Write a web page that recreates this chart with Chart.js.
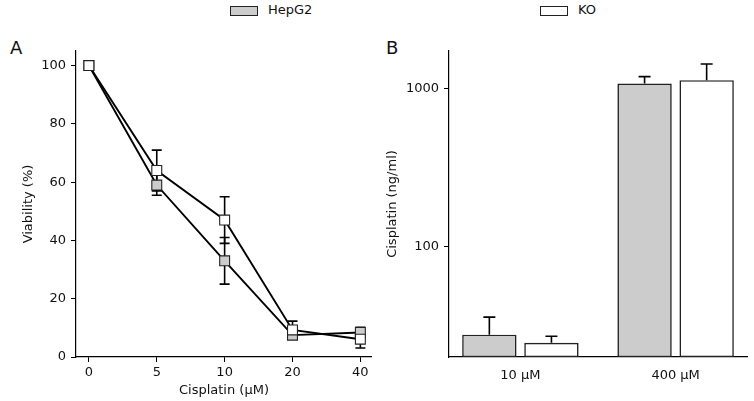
<!DOCTYPE html>
<html>
<head>
<meta charset="utf-8">
<script src="https://cdn.jsdelivr.net/npm/chart.js@4"></script>
<style>
  body { margin: 0; background: #fff; width: 754px; height: 401px; position: relative; overflow: hidden; font-family: 'DejaVu Sans', sans-serif; color: #111; }
  canvas { position: absolute; top: 0; }
  .lbl { position: absolute; font-size: 18px; line-height: 18px; }
  .key { position: absolute; top: 6px; width: 26px; height: 8px; border: 1px solid #222; }
  .keytxt { position: absolute; top: 3px; font-size: 13px; line-height: 13px; }
</style>
</head>
<body>
<div class="lbl" style="left:10px; top:39px;">A</div>
<div class="lbl" style="left:386px; top:39px;">B</div>
<div class="key" style="left:230px; background:#cccccc;"></div>
<div class="keytxt" style="left:268px;">HepG2</div>
<div class="key" style="left:540px; background:#ffffff;"></div>
<div class="keytxt" style="left:578px;">KO</div>
<canvas id="chartA" width="380" height="401" style="left:0"></canvas>
<canvas id="chartB" width="374" height="401" style="left:380px"></canvas>
<script>
// panel A: viability vs cisplatin dose
const doseLabels = ['0', '5', '10', '20', '40'];
const hepg2Viability = [100, 59, 33, 7.5, 8.4];
const hepg2ViabilityErr = [0, 3.5, 8, 1, 1.8];
const koViability = [100, 64, 47, 9.3, 6.1];
const koViabilityErr = [0, 7, 8, 3, 3];

// panel B: intracellular cisplatin
const concLabels = ['10 µM', '400 µM'];
const hepg2Cisplatin = [27.7, 1082];
const hepg2CisplatinErr = [8.1, 115];
const koCisplatin = [24.6, 1135];
const koCisplatinErr = [2.5, 304];

Chart.defaults.font.family = 'DejaVu Sans';
Chart.defaults.font.size = 13;
Chart.defaults.color = '#111';

const grey = '#cccccc';
const edge = '#222222';

function toPoints(vals) {
    return vals.map((v, i) => ({ x: i, y: v }));
}

function fixedTicks(values) {
    return (scale) => { scale.ticks = values.map(v => ({ value: v })); };
}

function drawErrors(chart, both, cap) {
    const ctx = chart.ctx;
    const ys = chart.scales.y;
    ctx.save();
    ctx.strokeStyle = '#000';
    ctx.lineWidth = 1.6;
    chart.data.datasets.forEach((ds, i) => {
        const meta = chart.getDatasetMeta(i);
        meta.data.forEach((el, j) => {
            const v = ds.data[j].y;
            const e = ds.errors[j];
            if (!e) return;
            const top = ys.getPixelForValue(v + e);
            const bot = both ? ys.getPixelForValue(v - e) : el.y;
            ctx.beginPath();
            ctx.moveTo(el.x, top);
            ctx.lineTo(el.x, bot);
            ctx.moveTo(el.x - cap, top);
            ctx.lineTo(el.x + cap, top);
            if (both) {
                ctx.moveTo(el.x - cap, bot);
                ctx.lineTo(el.x + cap, bot);
            }
            ctx.stroke();
        });
    });
    ctx.restore();
}

const axisGrid = { display: true, drawOnChartArea: false, drawTicks: true, tickLength: 5, color: '#000', lineWidth: 1 };
const axisBorder = { display: true, color: '#000', width: 1.2 };

new Chart(document.getElementById('chartA'), {
    type: 'line',
    data: {
        datasets: [
            {
                label: 'HepG2',
                data: toPoints(hepg2Viability),
                errors: hepg2ViabilityErr,
                borderColor: '#000',
                borderWidth: 1.9,
                pointStyle: 'rect',
                pointRadius: 7,
                pointBackgroundColor: grey,
                pointBorderColor: edge,
                pointBorderWidth: 1.1,
                order: 2
            },
            {
                label: 'KO',
                data: toPoints(koViability),
                errors: koViabilityErr,
                borderColor: '#000',
                borderWidth: 1.9,
                pointStyle: 'rect',
                pointRadius: 7,
                pointBackgroundColor: '#fff',
                pointBorderColor: edge,
                pointBorderWidth: 1.1,
                order: 1
            }
        ]
    },
    options: {
        responsive: false,
        animation: false,
        layout: { padding: { top: 51, right: 8, left: 0, bottom: 0 } },
        plugins: { legend: { display: false }, tooltip: { enabled: false } },
        scales: {
            x: {
                type: 'linear',
                min: -0.19,
                max: 4.17,
                bounds: 'data',
                afterBuildTicks: fixedTicks([0, 1, 2, 3, 4]),
                afterFit: (s) => { s.height = 44; },
                ticks: { padding: 3, maxRotation: 0, autoSkip: false, callback: (v) => doseLabels[v] },
                grid: axisGrid,
                border: axisBorder,
                title: { display: true, text: 'Cisplatin (µM)', padding: { top: 0, bottom: 3 } }
            },
            y: {
                min: 0,
                max: 105,
                bounds: 'data',
                afterBuildTicks: fixedTicks([0, 20, 40, 60, 80, 100]),
                afterFit: (s) => { s.width = 76; },
                ticks: { padding: 5 },
                grid: axisGrid,
                border: axisBorder,
                title: { display: true, text: 'Viability (%)', padding: { top: 21, bottom: 0 } }
            }
        }
    },
    plugins: [{
        id: 'errA',
        beforeDatasetsDraw(chart) { drawErrors(chart, true, 5); }
    }]
});

new Chart(document.getElementById('chartB'), {
    type: 'bar',
    data: {
        datasets: [
            {
                label: 'HepG2',
                data: toPoints(hepg2Cisplatin),
                errors: hepg2CisplatinErr,
                backgroundColor: grey,
                borderColor: edge,
                borderWidth: 1.6,
                borderSkipped: false
            },
            {
                label: 'KO',
                data: toPoints(koCisplatin),
                errors: koCisplatinErr,
                backgroundColor: '#fff',
                borderColor: edge,
                borderWidth: 1.6,
                borderSkipped: false
            }
        ]
    },
    options: {
        responsive: false,
        animation: false,
        categoryPercentage: 0.8,
        barPercentage: 0.876,
        layout: { padding: { top: 51, right: 7, left: 0, bottom: 0 } },
        plugins: { legend: { display: false }, tooltip: { enabled: false } },
        scales: {
            x: {
                type: 'linear',
                offset: false,
                min: -0.46,
                max: 1.46,
                bounds: 'data',
                afterBuildTicks: fixedTicks([0, 1]),
                afterFit: (s) => { s.height = 44; },
                ticks: { padding: 3, maxRotation: 0, autoSkip: false, callback: (v) => concLabels[v] },
                grid: { display: false, offset: false },
                border: axisBorder
            },
            y: {
                type: 'logarithmic',
                min: 20,
                max: 1740,
                bounds: 'data',
                afterBuildTicks: fixedTicks([100, 1000]),
                afterFit: (s) => { s.width = 69; },
                ticks: { padding: 5, callback: (v) => String(v) },
                grid: axisGrid,
                border: axisBorder,
                title: { display: true, text: 'Cisplatin (ng/ml)', padding: { top: 5, bottom: 0 } }
            }
        }
    },
    plugins: [{
        id: 'errB',
        afterDatasetsDraw(chart) { drawErrors(chart, false, 6); }
    }]
});
</script>
</body>
</html>
